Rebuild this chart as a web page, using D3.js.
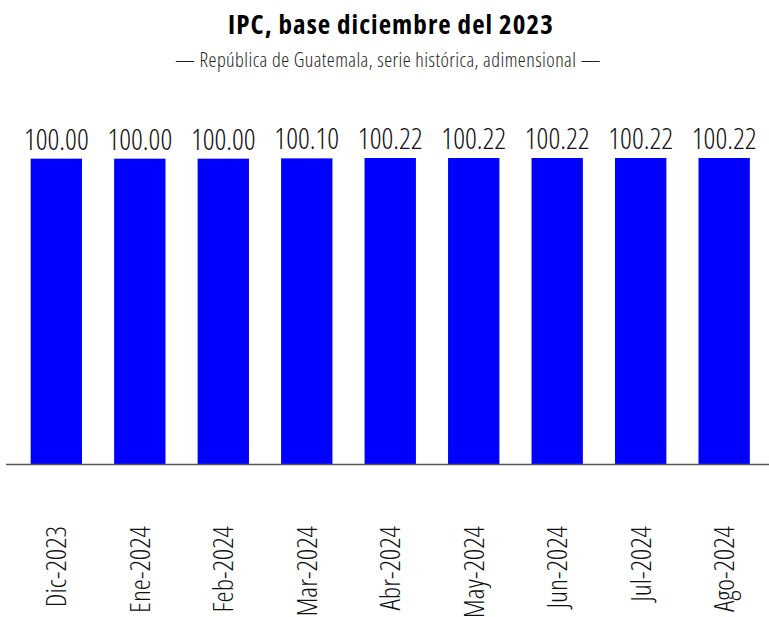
<!DOCTYPE html>
<html>
<head>
<meta charset="utf-8">
<script src="https://cdn.jsdelivr.net/npm/d3@7"></script>
<style>
  html, body { margin: 0; padding: 0; background: #fff; }
  svg text { font-family: "Open Sans", sans-serif; font-stretch: 75%; }
  .light { font-weight: 300; font-variation-settings: "wght" 300, "wdth" 75; }
</style>
</head>
<body>
<svg id="chart" width="769" height="617"></svg>
<script>
// Monthly CPI index values (base Dec 2023 = 100)
const categories = ["Dic-2023", "Ene-2024", "Feb-2024", "Mar-2024", "Abr-2024", "May-2024", "Jun-2024", "Jul-2024", "Ago-2024"];
const values = [100.00, 100.00, 100.00, 100.10, 100.22, 100.22, 100.22, 100.22, 100.22];
const titleText = "IPC, base diciembre del 2023";
const subtitleText = "— República de Guatemala, serie histórica, adimensional —";

const svg = d3.select("#chart");
const W = 769;
const baseY = 464;

const x = d3.scaleBand()
  .domain(categories)
  .range([14.8, 765.7])
  .paddingInner(0.385)
  .paddingOuter(0.19);

const y = d3.scaleLinear()
  .domain([0, d3.max(values)])
  .range([baseY, 158]);

const data = categories.map((c, i) => ({ c, v: values[i] }));

// title block
svg.append("text")
  .attr("x", 391).attr("y", 34)
  .attr("text-anchor", "middle")
  .style("font-size", "27px").style("font-weight", 700)
  .style("letter-spacing", "1.05px")
  .attr("fill", "#000")
  .text(titleText);

svg.append("text")
  .attr("class", "light")
  .attr("x", 388).attr("y", 67)
  .attr("text-anchor", "middle")
  .style("font-size", "20px")
  .style("letter-spacing", "0.45px")
  .attr("fill", "#222")
  .text(subtitleText);

// bars
svg.append("g").selectAll("rect")
  .data(data).join("rect")
  .attr("x", d => x(d.c))
  .attr("y", d => y(d.v))
  .attr("width", x.bandwidth())
  .attr("height", d => baseY - y(d.v))
  .attr("fill", "#0000ff");

// value labels
svg.append("g").selectAll("text")
  .data(data).join("text")
  .attr("class", "light")
  .attr("x", d => x(d.c) + x.bandwidth() / 2)
  .attr("y", d => y(d.v) - 9)
  .attr("text-anchor", "middle")
  .style("font-size", "29px")
  .attr("fill", "#111")
  .text(d => d.v.toFixed(2));

// baseline axis
const xAxis = d3.axisBottom(x).tickSize(0).tickPadding(0);
const gx = svg.append("g")
  .attr("transform", `translate(0,${baseY})`)
  .call(xAxis);
gx.select(".domain").remove();
gx.append("line")
  .attr("x1", 6).attr("x2", W)
  .attr("y1", 0.5).attr("y2", 0.5)
  .attr("stroke", "#555").attr("stroke-width", 1.6);

gx.selectAll(".tick text")
  .attr("class", "light")
  .attr("transform", "translate(0,62) rotate(-90)")
  .attr("x", 0).attr("y", 0)
  .attr("dy", "0.36em")
  .attr("text-anchor", "end")
  .style("font-size", "28px")
  .attr("fill", "#111");
</script>
</body>
</html>
